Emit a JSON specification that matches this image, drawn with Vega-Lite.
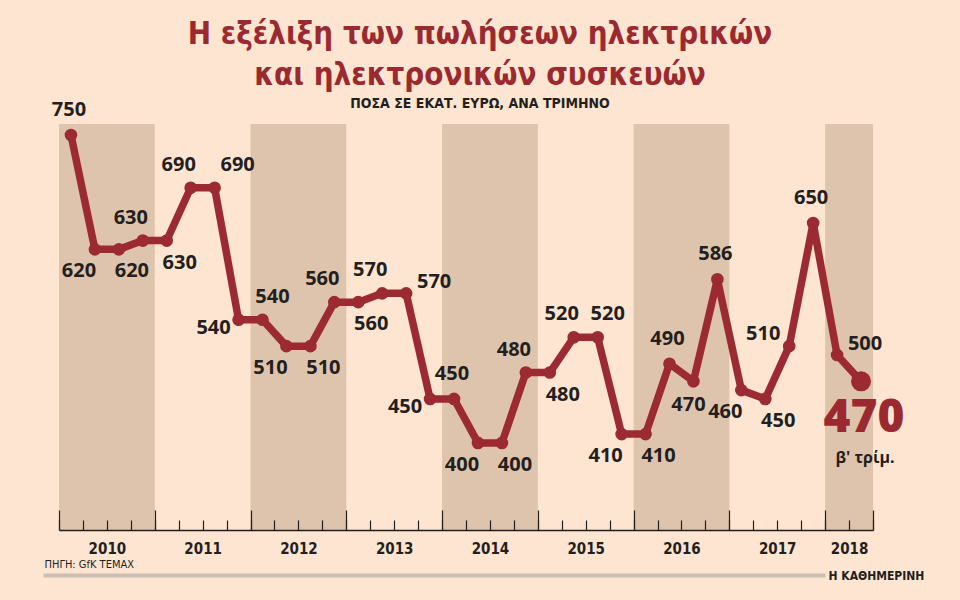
{
  "$schema": "https://vega.github.io/schema/vega-lite/v6.json",
  "width": 814,
  "height": 406,
  "autosize": {"type": "none"},
  "padding": {"left": 59, "top": 124, "right": 87, "bottom": 70},
  "background": "#fde5d1",
  "config": {"view": {"stroke": null}},
  "title": {
    "text": ["Η εξέλιξη των πωλήσεων ηλεκτρικών", "και ηλεκτρονικών συσκευών"],
    "subtitle": "ΠΟΣΑ ΣΕ ΕΚΑΤ. ΕΥΡΩ, ΑΝΑ ΤΡΙΜΗΝΟ",
    "font": "DejaVu Sans Condensed",
    "fontSize": 31,
    "fontWeight": "bold",
    "color": "#9b2a30",
    "lineHeight": 41,
    "subtitleFont": "DejaVu Sans Condensed",
    "subtitleFontSize": 14,
    "subtitleFontWeight": "bold",
    "subtitleColor": "#231f20",
    "subtitlePadding": 5,
    "anchor": "middle",
    "dx": 14,
    "offset": -12
  },
  "datasets": {
    "sales": [
      {"year": 2010, "quarter": 1, "q": 1, "value": 750, "side": "above"},
      {"year": 2010, "quarter": 2, "q": 2, "value": 620, "side": "belowL"},
      {"year": 2010, "quarter": 3, "q": 3, "value": 620, "side": "belowR"},
      {"year": 2010, "quarter": 4, "q": 4, "value": 630, "side": "aboveL"},
      {"year": 2011, "quarter": 1, "q": 5, "value": 630, "side": "belowR"},
      {"year": 2011, "quarter": 2, "q": 6, "value": 690, "side": "aboveL"},
      {"year": 2011, "quarter": 3, "q": 7, "value": 690, "side": "aboveRR"},
      {"year": 2011, "quarter": 4, "q": 8, "value": 540, "side": "left"},
      {"year": 2012, "quarter": 1, "q": 9, "value": 540, "side": "aboveR"},
      {"year": 2012, "quarter": 2, "q": 10, "value": 510, "side": "belowL"},
      {"year": 2012, "quarter": 3, "q": 11, "value": 510, "side": "belowR"},
      {"year": 2012, "quarter": 4, "q": 12, "value": 560, "side": "aboveL"},
      {"year": 2013, "quarter": 1, "q": 13, "value": 560, "side": "belowR"},
      {"year": 2013, "quarter": 2, "q": 14, "value": 570, "side": "aboveL"},
      {"year": 2013, "quarter": 3, "q": 15, "value": 570, "side": "right"},
      {"year": 2013, "quarter": 4, "q": 16, "value": 450, "side": "left"},
      {"year": 2014, "quarter": 1, "q": 17, "value": 450, "side": "above"},
      {"year": 2014, "quarter": 2, "q": 18, "value": 400, "side": "belowL"},
      {"year": 2014, "quarter": 3, "q": 19, "value": 400, "side": "belowR"},
      {"year": 2014, "quarter": 4, "q": 20, "value": 480, "side": "aboveL"},
      {"year": 2015, "quarter": 1, "q": 21, "value": 480, "side": "belowR"},
      {"year": 2015, "quarter": 2, "q": 22, "value": 520, "side": "aboveL"},
      {"year": 2015, "quarter": 3, "q": 23, "value": 520, "side": "aboveR"},
      {"year": 2015, "quarter": 4, "q": 24, "value": 410, "side": "belowL"},
      {"year": 2016, "quarter": 1, "q": 25, "value": 410, "side": "belowR"},
      {"year": 2016, "quarter": 2, "q": 26, "value": 490, "side": "above"},
      {"year": 2016, "quarter": 3, "q": 27, "value": 470, "side": "below"},
      {"year": 2016, "quarter": 4, "q": 28, "value": 586, "side": "above"},
      {"year": 2017, "quarter": 1, "q": 29, "value": 460, "side": "belowL"},
      {"year": 2017, "quarter": 2, "q": 30, "value": 450, "side": "belowR"},
      {"year": 2017, "quarter": 3, "q": 31, "value": 510, "side": "upleft"},
      {"year": 2017, "quarter": 4, "q": 32, "value": 650, "side": "above"},
      {"year": 2018, "quarter": 1, "q": 33, "value": 500, "side": "right"},
      {"year": 2018, "quarter": 2, "q": 34, "value": 470, "side": "big"}
    ],
    "bands": [
      {"year": 2010, "start": 0.5, "end": 4.5},
      {"year": 2012, "start": 8.5, "end": 12.5},
      {"year": 2014, "start": 16.5, "end": 20.5},
      {"year": 2016, "start": 24.5, "end": 28.5},
      {"year": 2018, "start": 32.5, "end": 34.5}
    ]
  },
  "resolve": {"scale": {"x": "independent"}, "axis": {"x": "independent"}},
  "encoding": {
    "x": {"field": "q", "type": "quantitative", "scale": {"domain": [0.5, 34.5], "nice": false, "zero": false}, "axis": null},
    "y": {"field": "value", "type": "quantitative", "scale": {"domain": [301, 762.5], "nice": false, "zero": false}, "axis": null}
  },
  "layer": [
    {
      "data": {"name": "bands"},
      "mark": {"type": "rect", "color": "#dfc4ad"},
      "encoding": {
        "x": {"field": "start", "type": "quantitative", "scale": {"domain": [0.5, 34.5], "nice": false, "zero": false}, "axis": {
          "orient": "bottom", "zindex": 1,
          "values": [0.5,1.5,2.5,3.5,4.5,5.5,6.5,7.5,8.5,9.5,10.5,11.5,12.5,13.5,14.5,15.5,16.5,17.5,18.5,19.5,20.5,21.5,22.5,23.5,24.5,25.5,26.5,27.5,28.5,29.5,30.5,31.5,32.5,33.5,34.5],
          "labels": false, "grid": false,
          "ticks": true, "tickSize": -10, "tickColor": "#231f20", "tickWidth": 1.2,
          "domain": true, "domainColor": "#231f20", "domainWidth": 1.5,
          "title": "Η ΚΑΘΗΜΕΡΙΝΗ", "titleFont": "DejaVu Sans Condensed", "titleFontSize": 12, "titleFontWeight": "bold",
          "titleColor": "#231f20", "titleAnchor": "start", "titleAlign": "left", "titleBaseline": "middle",
          "titleX": 769, "titleY": 45
        }},
        "x2": {"field": "end"},
        "y": null
      }
    },
    {
      "data": {"name": "sales"},
      "mark": {"type": "point", "opacity": 0},
      "encoding": {
        "x": {"field": "q", "type": "quantitative", "scale": {"domain": [0.5, 34.5], "nice": false, "zero": false, "range": [-16, 766]}, "axis": {
          "orient": "bottom", "offset": 45,
          "labels": false, "ticks": false, "grid": false, "title": null,
          "domain": true, "domainColor": "#cbbfb4", "domainWidth": 4, "domainCap": "butt"
        }}
      }
    },
    {
      "data": {"name": "sales"},
      "mark": {"type": "line", "color": "#9b2a33", "strokeWidth": 7.5, "strokeJoin": "round", "strokeCap": "round"},
      "encoding": {
        "x": {"field": "q", "type": "quantitative", "scale": {"domain": [0.5, 34.5], "nice": false, "zero": false}, "axis": {
          "orient": "bottom", "zindex": 1,
          "values": [0.5,4.5,8.5,12.5,16.5,20.5,24.5,28.5,32.5,34.5],
          "labels": false, "grid": false, "title": null, "domain": false,
          "ticks": true, "tickSize": -20, "tickColor": "#231f20", "tickWidth": 1.2
        }}
      }
    },
    {
      "data": {"name": "sales"},
      "transform": [{"filter": "datum.side != 'big'"}],
      "mark": {"type": "circle", "color": "#9b2a33", "opacity": 1, "size": 160},
      "encoding": {
        "x": {"field": "q", "type": "quantitative", "scale": {"domain": [0.5, 34.5], "nice": false, "zero": false}, "axis": {
          "orient": "bottom",
          "values": [2.5,6.5,10.5,14.5,18.5,22.5,26.5,30.5,33.5],
          "labelExpr": "datum.value == 33.5 ? '2018' : toString(2010 + floor((datum.value - 0.5) / 4))",
          "ticks": false, "domain": false, "grid": false,
          "labelFont": "DejaVu Sans Condensed", "labelFontWeight": "bold", "labelFontSize": 15,
          "labelColor": "#231f20", "labelPadding": 11,
          "title": "ΠΗΓΗ: GfK TEMAX", "titleFont": "DejaVu Sans Condensed", "titleFontSize": 11, "titleFontWeight": "normal",
          "titleColor": "#231f20", "titleAnchor": "start", "titleAlign": "left", "titleBaseline": "middle",
          "titleX": -15, "titleY": 34
        }}
      }
    },
    {
      "data": {"name": "sales"},
      "transform": [{"filter": "datum.side == 'big'"}],
      "mark": {"type": "circle", "color": "#9b2a33", "opacity": 1, "size": 400}
    },
    {"data": {"name": "sales"}, "transform": [{"filter": "datum.side == 'above'"}],
     "mark": {"type": "text", "font": "Open Sans", "fontWeight": "bold", "fontSize": 20, "color": "#231f20", "baseline": "middle", "dx": -2, "dy": -25},
     "encoding": {"text": {"field": "value", "type": "quantitative"}}},
    {"data": {"name": "sales"}, "transform": [{"filter": "datum.side == 'aboveL'"}],
     "mark": {"type": "text", "font": "Open Sans", "fontWeight": "bold", "fontSize": 20, "color": "#231f20", "baseline": "middle", "dx": -12, "dy": -23},
     "encoding": {"text": {"field": "value", "type": "quantitative"}}},
    {"data": {"name": "sales"}, "transform": [{"filter": "datum.side == 'aboveR'"}],
     "mark": {"type": "text", "font": "Open Sans", "fontWeight": "bold", "fontSize": 20, "color": "#231f20", "baseline": "middle", "dx": 10, "dy": -23},
     "encoding": {"text": {"field": "value", "type": "quantitative"}}},
    {"data": {"name": "sales"}, "transform": [{"filter": "datum.side == 'aboveRR'"}],
     "mark": {"type": "text", "font": "Open Sans", "fontWeight": "bold", "fontSize": 20, "color": "#231f20", "baseline": "middle", "dx": 23, "dy": -23},
     "encoding": {"text": {"field": "value", "type": "quantitative"}}},
    {"data": {"name": "sales"}, "transform": [{"filter": "datum.side == 'below'"}],
     "mark": {"type": "text", "font": "Open Sans", "fontWeight": "bold", "fontSize": 20, "color": "#231f20", "baseline": "middle", "dx": -5, "dy": 24},
     "encoding": {"text": {"field": "value", "type": "quantitative"}}},
    {"data": {"name": "sales"}, "transform": [{"filter": "datum.side == 'belowL'"}],
     "mark": {"type": "text", "font": "Open Sans", "fontWeight": "bold", "fontSize": 20, "color": "#231f20", "baseline": "middle", "dx": -16, "dy": 22},
     "encoding": {"text": {"field": "value", "type": "quantitative"}}},
    {"data": {"name": "sales"}, "transform": [{"filter": "datum.side == 'belowR'"}],
     "mark": {"type": "text", "font": "Open Sans", "fontWeight": "bold", "fontSize": 20, "color": "#231f20", "baseline": "middle", "dx": 13, "dy": 22},
     "encoding": {"text": {"field": "value", "type": "quantitative"}}},
    {"data": {"name": "sales"}, "transform": [{"filter": "datum.side == 'left'"}],
     "mark": {"type": "text", "font": "Open Sans", "fontWeight": "bold", "fontSize": 20, "color": "#231f20", "baseline": "middle", "dx": -25, "dy": 8},
     "encoding": {"text": {"field": "value", "type": "quantitative"}}},
    {"data": {"name": "sales"}, "transform": [{"filter": "datum.side == 'right'"}],
     "mark": {"type": "text", "font": "Open Sans", "fontWeight": "bold", "fontSize": 20, "color": "#231f20", "baseline": "middle", "dx": 28, "dy": -11},
     "encoding": {"text": {"field": "value", "type": "quantitative"}}},
    {"data": {"name": "sales"}, "transform": [{"filter": "datum.side == 'upleft'"}],
     "mark": {"type": "text", "font": "Open Sans", "fontWeight": "bold", "fontSize": 20, "color": "#231f20", "baseline": "middle", "dx": -26, "dy": -12},
     "encoding": {"text": {"field": "value", "type": "quantitative"}}},
    {"data": {"name": "sales"}, "transform": [{"filter": "datum.side == 'big'"}],
     "mark": {"type": "text", "font": "Open Sans", "fontWeight": 800, "fontSize": 46, "color": "#9b2a30", "baseline": "middle", "dx": 3, "dy": 37},
     "encoding": {"text": {"field": "value", "type": "quantitative"}}},
    {"data": {"name": "sales"}, "transform": [{"filter": "datum.side == 'big'"}],
     "mark": {"type": "text", "font": "Open Sans", "fontWeight": "bold", "fontSize": 16, "color": "#231f20", "baseline": "middle", "dx": 4, "dy": 77},
     "encoding": {"text": {"value": "β' τρίμ."}}}
  ]
}
